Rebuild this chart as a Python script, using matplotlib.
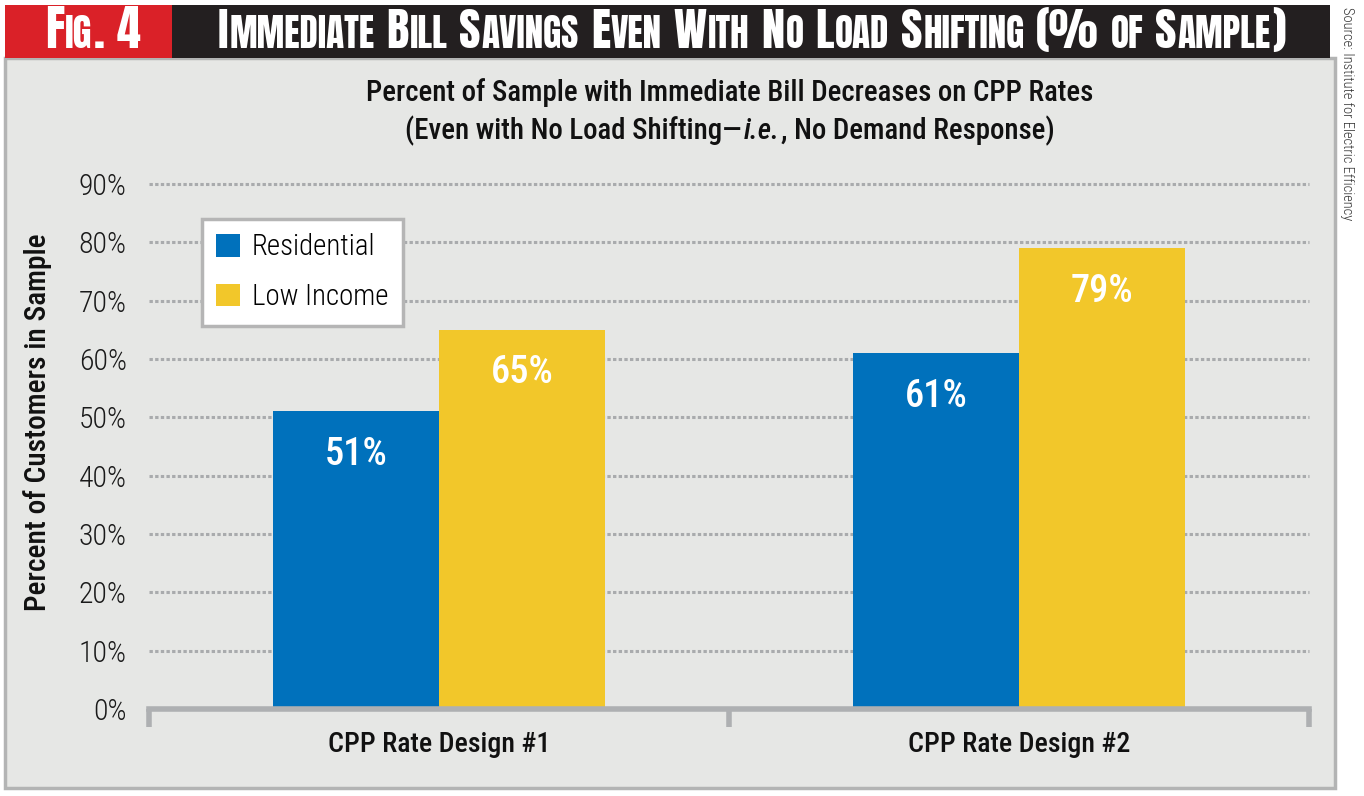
import matplotlib
matplotlib.use("Agg")
import matplotlib.pyplot as plt
from matplotlib.patches import Rectangle
from matplotlib import font_manager as fm

# data
categories = ["CPP Rate Design #1", "CPP Rate Design #2"]
residential = [51, 61]
low_income = [65, 79]
series_names = ["Residential", "Low Income"]
yticks = [0, 10, 20, 30, 40, 50, 60, 70, 80, 90]

W, H = 1364, 796

faces = {}
for f in fm.fontManager.ttflist:
    if f.style == "normal":
        faces.setdefault(f.name, set()).add(f.weight)


def pick(cands, need=()):
    for c in cands:
        if c in faces and all(w in faces[c] for w in need):
            return c
    return "DejaVu Sans"


FONT = pick(["Roboto Condensed", "Archivo Narrow", "IBM Plex Sans Condensed"], need=(300, 500))
if FONT == "DejaVu Sans":
    FONT = pick(["Roboto Condensed", "Archivo Narrow", "IBM Plex Sans Condensed"], need=(500,))
MED = 500 if 500 in faces.get(FONT, ()) else "bold"
LIGHT = 300 if 300 in faces.get(FONT, ()) else "normal"
HEAD = pick(["Anton", "Fjalla One", "Oswald"])
HEADW = "bold" if HEAD == "Oswald" else "normal"
plt.rcParams["font.family"] = [FONT, "DejaVu Sans"]

BLUE = "#0071bc"
YELLOW = "#f2c72a"
PANEL = "#e6e7e5"
EDGE = "#b3b4b4"

fig = plt.figure(figsize=(W / 100, H / 100), dpi=100)
fig.patch.set_facecolor("white")
renderer = fig.canvas.get_renderer()


def fx(x):
    return x / W


def fy(y):
    return 1 - y / H


def width(t):
    return t.get_window_extent(renderer).width


def size_for(s, target, **kw):
    t = fig.text(0, 0, s, fontsize=20, **kw)
    w = width(t)
    t.remove()
    return 20 * target / w


# panel + header bars
fig.patches.append(Rectangle((fx(5), fy(788)), 1330 / W, 730 / H, transform=fig.transFigure,
                             facecolor=PANEL, edgecolor=EDGE, lw=2.5, zorder=-5))
fig.patches.append(Rectangle((fx(5), fy(58)), 167 / W, 53 / H, transform=fig.transFigure,
                             facecolor="#da2128", edgecolor="none", zorder=-4))
fig.patches.append(Rectangle((fx(172), fy(58)), 1158 / W, 53 / H, transform=fig.transFigure,
                             facecolor="#231f20", edgecolor="none", zorder=-4))


def small_caps(x0, ybase, s, size, target=None, ratio=0.8):
    # fake small caps: capitals big, lower case as smaller capitals
    def draw(sz):
        arts = []
        x = x0
        p1 = fig.text(0, 0, "H H", fontsize=sz, family=HEAD, weight=HEADW)
        p2 = fig.text(0, 0, "HH", fontsize=sz, family=HEAD, weight=HEADW)
        sp = width(p1) - width(p2)
        p1.remove()
        p2.remove()
        for word in s.split(" "):
            runs = []
            for ch in word:
                low = ch.islower()
                if runs and runs[-1][1] == low:
                    runs[-1][0] += ch
                else:
                    runs.append([ch, low])
            for txt, low in runs:
                t = fig.text(fx(x), fy(ybase), txt.upper(), fontsize=sz * (ratio if low else 1),
                             family=HEAD, weight=HEADW, color="white", ha="left", va="baseline")
                x += width(t) + 1
                arts.append(t)
            x += sp
        return arts, x - sp - x0

    arts, w = draw(size)
    if target:
        for a in arts:
            a.remove()
        arts, w = draw(size * target / w)
    return arts


small_caps(45, 48, "Fig. 4", 30, target=97)
small_caps(218, 48, "Immediate Bill Savings Even With No Load Shifting (% of Sample)", 30, target=1072)

src = "Source: Institute for Electric Efficiency"
fig.text(fx(1347), fy(7), src, rotation=-90, ha="center", va="top",
         fontsize=size_for(src, 214, weight=LIGHT), weight=LIGHT, color="#333333")

# chart titles
t1 = "Percent of Sample with Immediate Bill Decreases on CPP Rates"
tsz = size_for(t1, 729, weight=MED)
fig.text(fx(730), fy(93), t1, ha="center", va="center", fontsize=tsz, weight=MED, color="#111111")
parts = [("(Even with No Load Shifting\u2014", "normal"), ("i.e.", "italic"),
         (", No Demand Response)", "normal")]
pieces = [fig.text(0, fy(131), p, style=st, fontsize=tsz, weight=MED, color="#111111",
                   va="center", ha="left") for p, st in parts]
tot = sum(width(t) for t in pieces) + 3
xx = 730 - tot / 2
for t in pieces:
    t.set_x(fx(xx))
    xx += width(t) + 1.5

ax = fig.add_axes([fx(149), 87 / H, 1160 / W, 525 / H])
ax.patch.set_alpha(0)

x = range(len(categories))
bw = 0.287
b1 = ax.bar([i - bw / 2 for i in x], residential, bw, color=BLUE, label=series_names[0], zorder=2)
b2 = ax.bar([i + bw / 2 for i in x], low_income, bw, color=YELLOW, label=series_names[1], zorder=2)

vsz = size_for("51%", 63, weight=MED)
for bars, vals in ((b1, residential), (b2, low_income)):
    for b, v in zip(bars, vals):
        ax.annotate(f"{v}%", (b.get_x() + b.get_width() / 2, v), xytext=(0, -31),
                    textcoords="offset points", ha="center", va="center",
                    fontsize=vsz, color="white", weight=MED, zorder=3)

ax.set_xlim(-0.5, 1.5)
ax.set_ylim(0, 90)
for v in yticks[1:]:
    ax.axhline(v, color="#a9abad", lw=2.2, linestyle=(0, (1.1, 0.75)), zorder=1, clip_on=False)

for s in ("top", "left", "right"):
    ax.spines[s].set_visible(False)
ax.spines["bottom"].set_color("#aeb0b2")
ax.spines["bottom"].set_linewidth(4)
ax.spines["bottom"].set_zorder(2.5)

ax.set_yticks(yticks)
ax.set_yticklabels([f"{v}%" for v in yticks], fontsize=size_for("80%", 48, weight=LIGHT),
                   weight=LIGHT, color="#1a1a1a")
ax.tick_params(axis="y", length=0, pad=16)

ax.set_xticks([-0.5, 0.5, 1.5])
ax.set_xticklabels([])
ax.tick_params(axis="x", which="major", length=13, width=4, color="#aeb0b2", direction="out")
ax.set_xticks(list(x), minor=True)
ax.set_xticklabels(categories, minor=True, fontsize=size_for(categories[0], 222, weight=MED),
                   weight=MED, color="#111111")
ax.tick_params(axis="x", which="minor", length=0, pad=16)

yl = "Percent of Customers in Sample"
fig.text(fx(38), fy(422), yl, rotation=90, ha="center", va="center",
         fontsize=size_for(yl, 377, weight=MED), weight=MED, color="#111111")

lsz = size_for("Residential", 123, weight=LIGHT)
leg = ax.legend(loc="upper left", bbox_to_anchor=(fx(202), fy(219)), bbox_transform=fig.transFigure,
                borderaxespad=0, prop={"size": lsz, "weight": LIGHT}, handlelength=0.82,
                handleheight=0.82, handletextpad=0.4, labelspacing=0.75, borderpad=0.5,
                fancybox=False, framealpha=1, edgecolor="#b5b5b5")
leg.get_frame().set_linewidth(2.5)
leg.set_zorder(5)

fig.savefig("out.png", dpi=100, facecolor="white")
